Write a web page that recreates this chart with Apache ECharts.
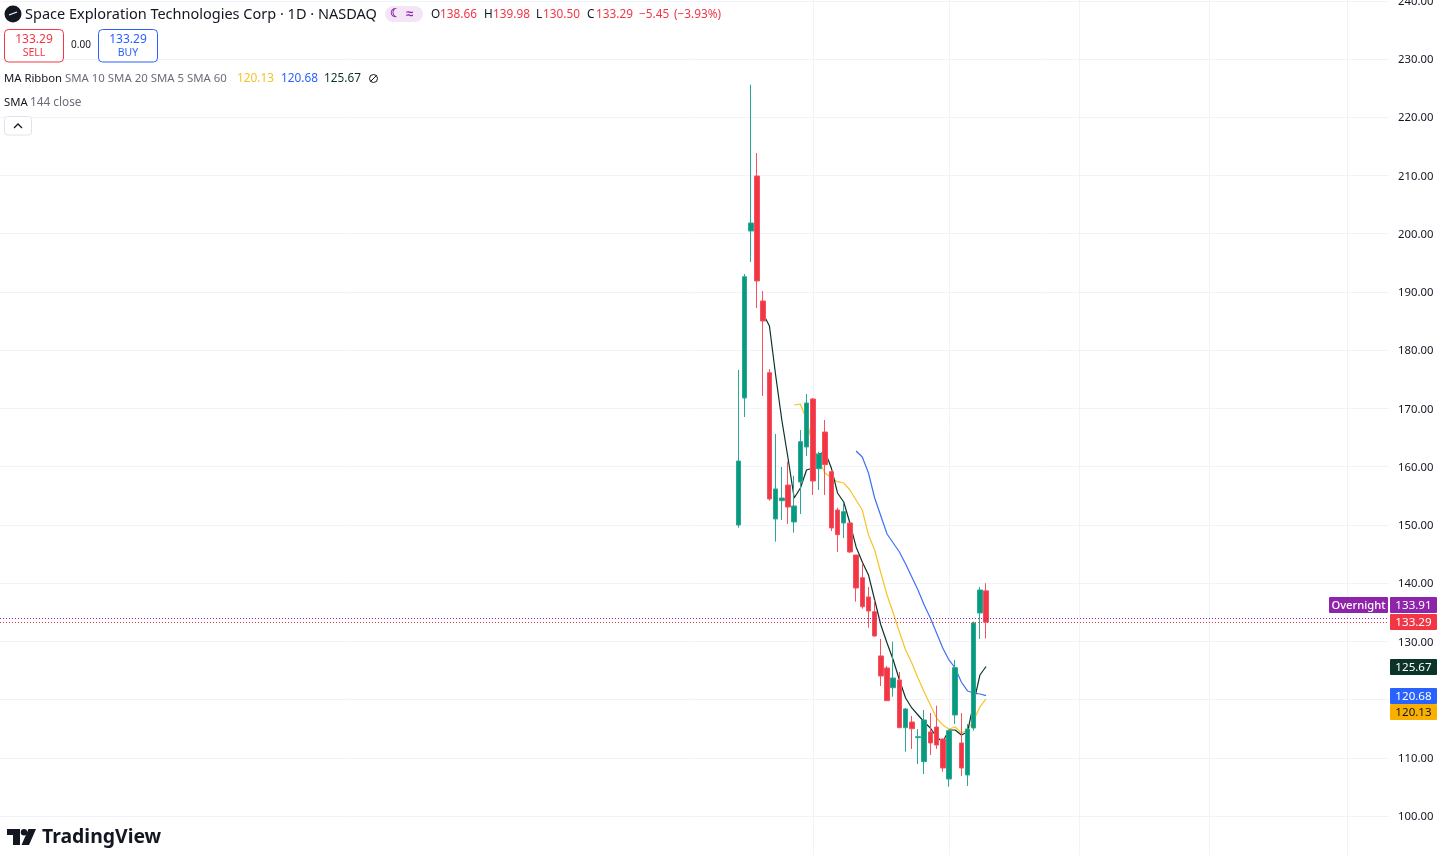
<!DOCTYPE html>
<html>
<head>
<meta charset="utf-8">
<style>html,body{margin:0;padding:0;background:#fff;overflow:hidden}#c{width:1440px;height:860px}</style>
<script src="https://cdn.jsdelivr.net/npm/echarts@6/dist/echarts.min.js"></script>
</head>
<body>
<div id="c"></div>
<script>
const opens  = [149.97,171.78,200.46,209.91,188.44,176.13,151.0,154.15,156.84,150.49,157.36,163.37,171.61,159.64,165.94,159.13,152.55,150.32,150.32,144.82,140.92,137.61,135.08,127.48,125.42,122.03,123.36,115.16,116.14,113.45,109.33,114.43,115.28,113.22,106.35,117.34,112.54,107.04,115.11,134.86,138.66];
const closes = [160.96,192.61,201.84,191.88,185.0,154.44,156.16,154.61,153.06,153.24,164.28,170.92,157.53,162.17,160.33,149.46,148.31,152.26,145.34,139.15,135.94,135.2,130.91,124.04,119.8,123.7,115.16,118.38,114.99,113.62,116.49,112.54,112.19,108.24,114.65,125.47,108.24,114.94,133.14,138.81,133.29];
const lows   = [149.51,168.52,195.14,187.24,172.13,154.15,147.11,150.83,150.15,148.65,151.86,161.82,155.13,155.98,155.13,148.94,145.34,147.74,145.17,136.8,135.6,132.34,130.79,122.32,119.75,120.49,115.11,111.04,111.51,108.93,107.21,110.48,111.51,107.61,105.03,115.8,106.87,105.15,114.65,130.4,130.5];
const highs  = [176.59,193.08,225.59,213.86,190.16,176.76,165.6,159.93,160.84,158.44,166.29,172.47,171.78,162.56,168.0,159.42,152.94,153.75,150.37,144.82,143.45,139.33,137.09,130.4,125.76,129.93,124.73,118.55,117.17,114.94,118.2,117.69,118.94,113.27,114.77,126.79,117.69,115.8,133.37,139.33,139.98];
const sma5 = [null,null,null,null,186.21,184.15,175.73,168.0,161.48,154.61,156.33,159.42,159.76,162.17,162.51,159.76,155.47,153.92,150.32,146.2,143.62,141.39,137.09,132.8,129.71,126.79,123.36,120.26,118.55,117.34,116.14,115.11,113.57,112.71,114.77,114.77,113.91,114.43,119.41,124.21,125.67];
const sma10 = [null,null,null,null,null,null,null,null,null,170.58,170.75,168.0,163.71,160.96,158.9,158.04,157.41,157.19,155.98,154.27,152.55,148.26,145.68,141.73,137.95,134.86,131.6,128.51,126.27,123.7,121.29,119.06,116.83,115.63,114.94,115.28,114.25,114.77,116.49,118.72,120.13];
const sma20 = [null,null,null,null,null,null,null,null,null,null,null,null,null,null,null,null,null,null,null,162.68,161.65,158.9,154.61,151.52,148.43,146.88,145.34,143.28,141.04,138.81,136.24,134.0,131.43,128.85,126.79,125.42,123.01,121.47,121.12,120.95,120.68];
const priceTicks = [100,110,120,130,140,150,160,170,180,190,200,210,220,230,240];
const timeTicks = [12,34,55,76,98.3];
const lastClose = 133.29, overnight = 133.91, lastSma5 = 125.67, lastSma20 = 120.68, lastSma10 = 120.13;

const UI = '"Noto Sans", sans-serif';
const GREEN='#089981', RED='#F23645', BLUE='#2962FF', YEL='#F7C325', DARK='#0B3329', PURPLE='#8E24AA', INK='#131722', GREY='#6a6d78';
const chart = echarts.init(document.getElementById('c'), null, {renderer:'canvas'});
const xy = a => a.map((v,i)=>[i,v]);
const lineS = (name,a,color,z)=>({name,type:'line',data:xy(a),showSymbol:false,symbol:'none',connectNulls:false,z,lineStyle:{color,width:1.2},silent:true,animation:false});
chart.setOption({
  animation:false,
  backgroundColor:'#fff',
  grid:{left:0,top:0,width:1389,height:855,containLabel:false,outerBoundsMode:'none'},
  xAxis:{type:'value',min:-119.3,max:105.09,axisLine:{show:false},axisLabel:{show:false},
    axisTick:{show:false,customValues:timeTicks},splitLine:{show:true,lineStyle:{color:'#f0f3fa',width:1}}},
  yAxis:{type:'value',position:'right',min:93.3,max:240.13,axisLine:{show:false},
    axisTick:{show:false,customValues:priceTicks},
    splitLine:{show:true,lineStyle:{color:'#f0f3fa',width:1}},
    axisLabel:{customValues:priceTicks,margin:9,color:INK,fontFamily:UI,fontSize:11.3,
      formatter:v=>'{a|'+v.toFixed(2)+'}',
      rich:{a:{padding:[2,0,0,0],color:INK,fontFamily:UI,fontSize:11.3}}}},
  series:[
    lineS('SMA 10',sma10,YEL,2),
    lineS('SMA 20',sma20,'#3d70f5',2),
    Object.assign(lineS('SMA 5',sma5,DARK,2),{markLine:{silent:true,symbol:'none',label:{show:false},animation:false,
      data:[{yAxis:overnight,lineStyle:{color:PURPLE,type:[1,2],width:1.2}},{yAxis:lastClose,lineStyle:{color:RED,type:[1,2],width:1.2}}]}}),
    {type:'candlestick',z:3,barWidth:5,silent:true,animation:false,
     data:opens.map((o,i)=>[i,o,closes[i],lows[i],highs[i]]),
     encode:{x:0,y:[1,2,3,4]},
     itemStyle:{color:GREEN,color0:RED,borderColor:'#2ba893',borderColor0:'#f4525f',borderWidth:1}}
  ]
});

function T(text,x,y,fill,size,extra){return Object.assign({type:'text',z:20,silent:true,style:{text,x,y,fill,font:(extra&&extra.weight||'400')+' '+size+'px '+UI,verticalAlign:'middle',align:(extra&&extra.align)||'left'}});}
function R(x,y,w,h,fill,stroke,r){return {type:'rect',z:19,silent:true,shape:{x,y,width:w,height:h,r:r||0},style:{fill:fill,stroke:stroke||null,lineWidth:1}};}
const py = v => chart.convertToPixel({yAxisIndex:0},v);
const tag = (v,fill,txt,shift)=>{const y=Math.round(py(v)+shift);return [R(1390,y-8,47,16,fill,null,1),T(v.toFixed(2),1413.5,y+0.5,txt,11.6,{align:'center'})];};
const purpleY=Math.round(py(overnight)-13.5);
const els=[
  {type:'circle',z:19,silent:true,shape:{cx:13,cy:14,r:8.5},style:{fill:'#131722'}},
  {type:'polyline',z:20,silent:true,shape:{points:[[9,15],[13,13.5],[17,12]]},style:{stroke:'#fff',lineWidth:1.2,fill:null}},
  T('Space Exploration Technologies Corp · 1D · NASDAQ',25,15,INK,14.5),
  R(385,6,38,16,'#f3e5f5',null,8),
  T('☾',390,14,PURPLE,12,{weight:'700'}),
  T('≈',406,14,PURPLE,13,{weight:'700'}),
  T('O',431,15,INK,11.8),T('138.66',440,15,RED,11.8),
  T('H',484,15,INK,11.8),T('139.98',493,15,RED,11.8),
  T('L',536,15,INK,11.8),T('130.50',543,15,RED,11.8),
  T('C',587,15,INK,11.8),T('133.29',596,15,RED,11.8),
  T('−5.45',639,15,RED,11.8),T('(−3.93%)',674,15,RED,11.8),
  R(4.5,29.5,59,32.5,'#fff',RED,4),
  T('133.29',34,40,RED,12,{align:'center'}),T('SELL',34,53.5,RED,10.5,{align:'center'}),
  T('0.00',81,45.5,INK,10,{align:'center'}),
  R(98.5,29.5,59,32.5,'#fff',BLUE,4),
  T('133.29',128,40,BLUE,12,{align:'center'}),T('BUY',128,53.5,BLUE,10.5,{align:'center'}),
  T('MA Ribbon',4,79,INK,11.3),
  T('SMA 10 SMA 20 SMA 5 SMA 60',65,79,GREY,11.4),
  T('120.13',237,79,YEL,11.8),T('120.68',281,79,BLUE,11.8),T('125.67',324,79,DARK,11.8),
  {type:'circle',z:20,silent:true,shape:{cx:373.5,cy:78.5,r:4},style:{fill:null,stroke:INK,lineWidth:1}},
  {type:'line',z:20,silent:true,shape:{x1:370.5,y1:81.5,x2:376.5,y2:75.5},style:{stroke:INK,lineWidth:1}},
  T('SMA',4,103,INK,11.3),T('144 close',30,103,GREY,11.8),
  R(4.5,116.5,27,18.5,'#fff','#e0e3eb',3),
  {type:'polyline',z:20,silent:true,shape:{points:[[14,128],[18,124],[22,128]]},style:{stroke:INK,lineWidth:1.3,fill:null}},
  R(1329,purpleY-8,59,16,PURPLE,null,1),T('Overnight',1358.5,purpleY+0.5,'#fff',11.2,{align:'center',weight:'500'}),
  R(1390,purpleY-8,47,16,PURPLE,null,1),T(overnight.toFixed(2),1413.5,purpleY+0.5,'#fff',11.6,{align:'center'}),
  ...tag(lastClose,RED,'#fff',0),
  ...tag(lastSma5,DARK,'#fff',0),
  ...tag(lastSma20,BLUE,'#fff',0),
  ...tag(lastSma10,'#F9B000',INK,13),
  {type:'polygon',z:20,silent:true,shape:{points:[[7,829],[20,829],[20,845],[13,845],[13,835],[7,835]]},style:{fill:'#131722'}},
  {type:'circle',z:20,silent:true,shape:{cx:24,cy:832.3,r:3.2},style:{fill:'#131722'}},
  {type:'polygon',z:20,silent:true,shape:{points:[[28.5,829],[36,829],[29,845],[21.5,845]]},style:{fill:'#131722'}},
  T('TradingView',42,837,'#131722',19.4,{weight:'700'})
];
chart.setOption({graphic:els});
</script>
</body>
</html>
